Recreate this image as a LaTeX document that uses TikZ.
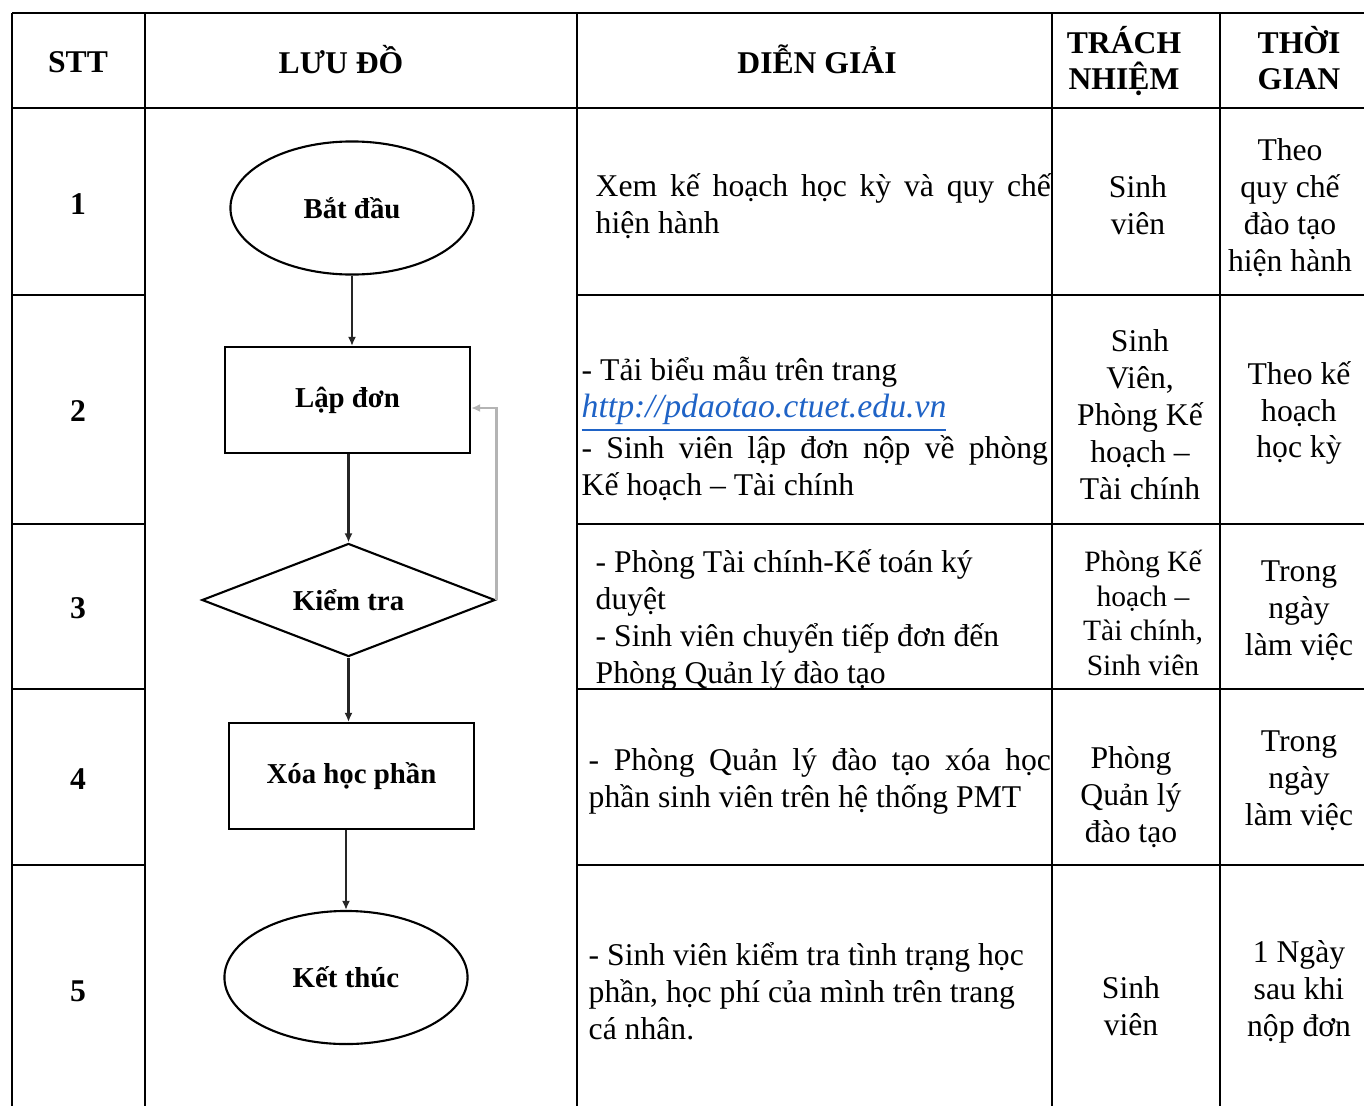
\documentclass[tikz,border=0pt]{standalone}
\usepackage{fontspec}
\setmainfont{Liberation Serif}
\usetikzlibrary{shapes.geometric,arrows.meta}
\definecolor{linkblue}{HTML}{1F63C6}
\definecolor{loopgray}{HTML}{B4B4B4}
\tikzset{
    every node/.style={inner sep=0mm, font=\fontsize{9}{10.5}\selectfont}
}
\tikzset{
    head/.style={align=center, font=\bfseries\fontsize{9}{10}\selectfont},
    num/.style={font=\bfseries\fontsize{9}{10}\selectfont},
    cell/.style={align=center},
    para/.style={anchor=west, text width=#1, align=justify},
    plain/.style={anchor=west, align=left},
    term/.style={ellipse, draw, line width=0.6pt, minimum width=2.43cm, minimum height=1.33cm,
        font=\bfseries\fontsize{8.2}{9}\selectfont},
    proc/.style={rectangle, draw, line width=0.6pt, minimum width=2.45cm, minimum height=1.06cm,
        font=\bfseries\fontsize{8.2}{9}\selectfont},
    check/.style={diamond, draw, line width=0.6pt, aspect=2.6, minimum width=2.93cm, minimum height=1.13cm,
        font=\bfseries\fontsize{8.2}{9}\selectfont},
    flow/.style={-{Latex[length=0.9mm,width=0.8mm]}, line width=0.6pt, draw=black!85},
    back/.style={-{Latex[length=0.9mm,width=0.8mm]}, line width=0.8pt, draw=loopgray},
    grid/.style={line width=0.6pt}
}

\begin{document}
\begin{tikzpicture}[x=0.01cm, y=-0.01cm]
    \useasboundingbox (0,0) rectangle (1364,1106);

    % table rules
    \draw[grid] (12,13) -- (1364,13);
    \draw[grid] (12,108) -- (1364,108);
    \draw[grid] (12,13) -- (12,1106);
    \draw[grid] (145,13) -- (145,1106);
    \draw[grid] (577,13) -- (577,1106);
    \draw[grid] (1052,13) -- (1052,1106);
    \draw[grid] (1220,13) -- (1220,1106);
    \draw[grid] (12,295) -- (145,295) (577,295) -- (1364,295);
    \draw[grid] (12,524) -- (145,524) (577,524) -- (1364,524);
    \draw[grid] (12,689) -- (145,689) (577,689) -- (1364,689);
    \draw[grid] (12,865) -- (145,865) (577,865) -- (1364,865);

    % header
    \node (hstt) [head] at (78,62) {STT};
    \node (hluu) [head] at (341,60) {LƯU ĐỒ};
    \node (hdien) [head] at (817,59) {DIỄN GIẢI};
    \node (htrach) [head] at (1124,61) {TRÁCH\\NHIỆM};
    \node (hthoi) [head] at (1299,58) {THỜI\\GIAN};

    \node (stt1) [num] at (78,204) {1};
    \node (stt2) [num] at (78,411) {2};
    \node (stt3) [num] at (78,608) {3};
    \node (stt4) [num] at (78,779) {4};
    \node (stt5) [num] at (78,991) {5};

    % flowchart
    \node (bd) [term] at (352,208) {Bắt đầu};
    \node (lap) [proc] at (347.5,400) {Lập đơn};
    \node (chk) [check] at (348.5,600) {Kiểm tra};
    \node (xoa) [proc] at (351.5,776) {Xóa học phần};
    \node (kt) [term] at (346,977.5) {Kết thúc};

    % descriptions
    \node (d1) [para=4.55cm] at (595,206) {Xem kế hoạch học kỳ và quy chế\linebreak hiện hành};
    \node (d2) [para=4.66cm] at (581,429) {- Tải biểu mẫu trên trang\\
        {\color{linkblue}\underline{\textit{\fontsize{9.6}{10.5}\selectfont http://pdaotao.ctuet.edu.vn}}}\\
        - Sinh viên lập đơn nộp về phòng\linebreak Kế hoạch – Tài chính};
    \node (d3) [plain] at (595,620) {- Phòng Tài chính-Kế toán ký\\duyệt\\- Sinh viên chuyển tiếp đơn đến\\Phòng Quản lý đào tạo};
    \node (d4) [para=4.62cm] at (588,781) {- Phòng Quản lý đào tạo xóa học\linebreak phần sinh viên trên hệ thống PMT};
    \node (d5) [plain] at (588,991) {- Sinh viên kiểm tra tình trạng học\\phần, học phí của mình trên trang\\cá nhân.};

    % responsibility
    \node (t1) [cell] at (1138,205) {Sinh\\viên};
    \node (t2) [cell] at (1140,415) {Sinh\\Viên,\\Phòng Kế\\hoạch –\\Tài chính};
    \node (t3) [cell, font=\fontsize{8.4}{9.8}\selectfont] at (1143,613) {Phòng Kế\\hoạch –\\Tài chính,\\Sinh viên};
    \node (t4) [cell] at (1131,797) {Phòng\\Quản lý\\đào tạo};
    \node (t5) [cell] at (1131,1006) {Sinh\\viên};

    % time
    \node (g1) [cell] at (1290,208) {Theo\\quy chế\\đào tạo\\hiện hành};
    \node (g2) [cell] at (1299,413) {Theo kế\\hoạch\\học kỳ};
    \node (g3) [cell] at (1299,611) {Trong\\ngày\\làm việc};
    \node (g4) [cell] at (1299,781) {Trong\\ngày\\làm việc};
    \node (g5) [cell] at (1299,992) {1 Ngày\\sau khi\\nộp đơn};

    \draw[flow] (bd.south) -- (bd.south |- lap.north);
    \draw[flow] (chk.north |- lap.south) -- (chk.north);
    \draw[flow] (chk.south) -- (chk.south |- xoa.north);
    \draw[flow] (kt.north |- xoa.south) -- (kt.north);
    \draw[back] (chk.east) |- ([yshift=-0.08cm]lap.east);
\end{tikzpicture}
\end{document}
